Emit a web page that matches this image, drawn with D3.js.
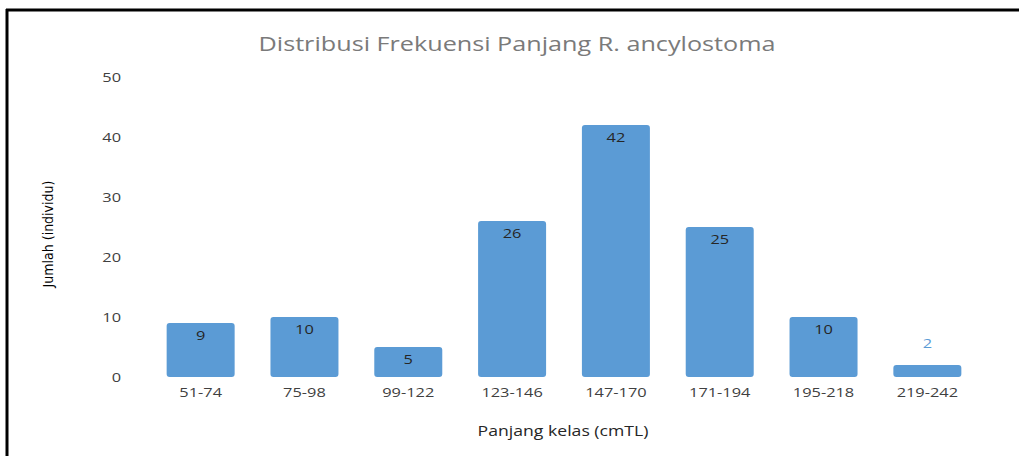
<!DOCTYPE html>
<html>
<head>
<meta charset="utf-8">
<script src="https://cdn.jsdelivr.net/npm/d3@7"></script>
<style>
  body { margin: 0; background: #fff; }
  text { font-family: "Open Sans", sans-serif; }
</style>
</head>
<body>
<div id="chart"></div>
<script>
// data
var kelas = ["51-74", "75-98", "99-122", "123-146", "147-170", "171-194", "195-218", "219-242"];
var jumlah = [9, 10, 5, 26, 42, 25, 10, 2];
var yTicks = [0, 10, 20, 30, 40, 50];

var W = 1019, H = 456;
var sx = 1.26; // the picture's text is stretched sideways

var svg = d3.select("#chart").append("svg")
    .attr("width", W)
    .attr("height", H);

function place(px, py) {
    return "translate(" + px + "," + py + ") scale(" + sx + ",1)";
}

// frame (top and left edges only)
svg.append("line").attr("x1", 6).attr("x2", W).attr("y1", 10).attr("y2", 10)
    .style("stroke", "#000").style("stroke-width", 3);
svg.append("line").attr("x1", 7).attr("x2", 7).attr("y1", 9).attr("y2", H)
    .style("stroke", "#000").style("stroke-width", 3);

var x = d3.scaleBand().domain(kelas).range([149, 979]).paddingInner(0.345).paddingOuter(0.17);
var y = d3.scaleLinear().domain([0, 50]).range([377, 77]);

// title
svg.append("text")
    .attr("transform", place(517, 51))
    .attr("text-anchor", "middle")
    .style("font-size", "20px")
    .style("fill", "#7a7a7a")
    .text("Distribusi Frekuensi Panjang R. ancylostoma");

// y ticks
svg.append("g").selectAll("text")
    .data(yTicks)
    .enter().append("text")
    .attr("transform", function(d) { return place(121, y(d) + 5); })
    .attr("text-anchor", "end")
    .style("font-size", "13px")
    .style("fill", "#404040")
    .text(function(d) { return d; });

// bars
svg.append("g").selectAll("rect")
    .data(jumlah)
    .enter().append("rect")
    .attr("x", function(d, i) { return x(kelas[i]); })
    .attr("y", function(d) { return y(d); })
    .attr("width", x.bandwidth())
    .attr("height", function(d) { return y(0) - y(d); })
    .attr("rx", 3)
    .style("fill", "#5b9bd5");

// value labels
svg.append("g").selectAll("text")
    .data(jumlah)
    .enter().append("text")
    .attr("transform", function(d, i) {
        var cx = x(kelas[i]) + x.bandwidth() / 2;
        return place(cx, d < 4 ? y(d) - 17 : y(d) + 17);
    })
    .attr("text-anchor", "middle")
    .style("font-size", "13px")
    .style("fill", function(d) { return d < 4 ? "#5b9bd5" : "#262626"; })
    .text(function(d) { return d; });

// category labels
svg.append("g").selectAll("text")
    .data(kelas)
    .enter().append("text")
    .attr("transform", function(d) { return place(x(d) + x.bandwidth() / 2, 397); })
    .attr("text-anchor", "middle")
    .style("font-size", "13px")
    .style("fill", "#404040")
    .text(function(d) { return d; });

// axis titles
svg.append("text")
    .attr("transform", place(563, 436))
    .attr("text-anchor", "middle")
    .style("font-size", "14px")
    .style("fill", "#262626")
    .text("Panjang kelas (cmTL)");

svg.append("text")
    .attr("transform", "translate(53,234) rotate(-90)")
    .attr("text-anchor", "middle")
    .style("font-family", "'Liberation Sans Narrow', 'DejaVu Sans Condensed', sans-serif")
    .style("font-size", "14px")
    .style("fill", "#000")
    .text("Jumlah (individu)");
</script>
</body>
</html>
